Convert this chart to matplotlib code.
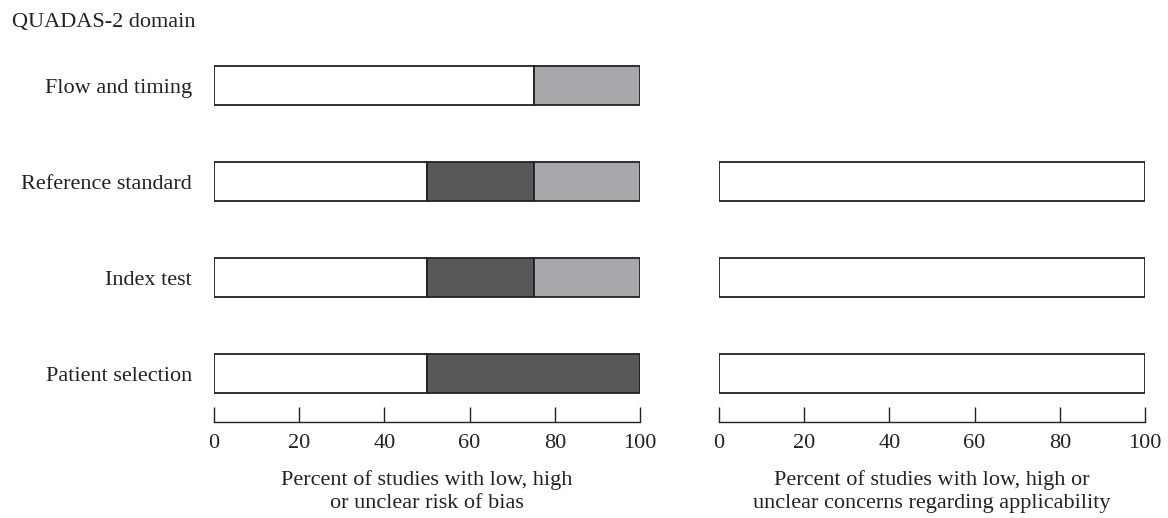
import numpy as np
import matplotlib.pyplot as plt

plt.rcParams['font.family'] = ['Liberation Serif', 'DejaVu Serif']
plt.rcParams['font.size'] = 16

domains = ['Patient selection', 'Index test', 'Reference standard', 'Flow and timing']

# risk of bias (%)
bias_low = [50, 50, 50, 75]
bias_high = [50, 25, 25, 0]
bias_unclear = [0, 25, 25, 25]

# applicability concerns (%), no flow and timing
app_domains = ['Patient selection', 'Index test', 'Reference standard']
app_low = [100, 100, 100]
app_high = [0, 0, 0]
app_unclear = [0, 0, 0]

COL_LOW = 'white'
COL_HIGH = '#58585a'
COL_UNCLEAR = '#a7a8ab'
EDGE = '#222222'
BAR_H = 0.40

fig = plt.figure(figsize=(11.68, 5.18), dpi=100)
ax1 = fig.add_axes([214 / 1168, 1 - 422 / 518, 426 / 1168, 362 / 518])
ax2 = fig.add_axes([719 / 1168, 1 - 422 / 518, 426 / 1168, 362 / 518])


def stacked(ax, labels, low, high, unclear):
    y = np.arange(len(labels))
    low = np.array(low)
    high = np.array(high)
    unclear = np.array(unclear)
    for vals, left, col in [(low, 0, COL_LOW), (high, low, COL_HIGH),
                            (unclear, low + high, COL_UNCLEAR)]:
        m = vals > 0
        ax.barh(y[m], vals[m], left=(left if np.isscalar(left) else left[m]),
                height=BAR_H, color=col, edgecolor=EDGE, linewidth=1.3)


stacked(ax1, domains, bias_low, bias_high, bias_unclear)
stacked(ax2, app_domains, app_low, app_high, app_unclear)

for ax in (ax1, ax2):
    ax.set_xlim(0, 100)
    ax.set_ylim(-0.505, 3.266)
    for s in ('top', 'right', 'left'):
        ax.spines[s].set_visible(False)
    ax.spines['bottom'].set_linewidth(1.0)
    ax.spines['bottom'].set_color('#222222')
    ax.spines['bottom'].set_bounds(0, 100)
    ax.set_xticks([0, 20, 40, 60, 80, 100])
    ax.tick_params(axis='x', direction='in', length=11, width=1.0, pad=9,
                   color='#222222', labelcolor='#222222')

ax1.set_yticks(np.arange(len(domains)))
ax1.set_yticklabels(domains)
ax1.tick_params(axis='y', length=0, pad=16, labelcolor='#222222')
ax2.set_yticks([])

ax1.set_xlabel('Percent of studies with low, high\nor unclear risk of bias',
               labelpad=12, linespacing=1.25, color='#222222')
ax2.set_xlabel('Percent of studies with low, high or\nunclear concerns regarding applicability',
               labelpad=12, linespacing=1.25, color='#222222')

fig.text(12 / 1168, 1 - 22 / 518, 'QUADAS-2 domain', ha='left', va='center',
         color='#222222')

fig.savefig('out.png', dpi=100)
